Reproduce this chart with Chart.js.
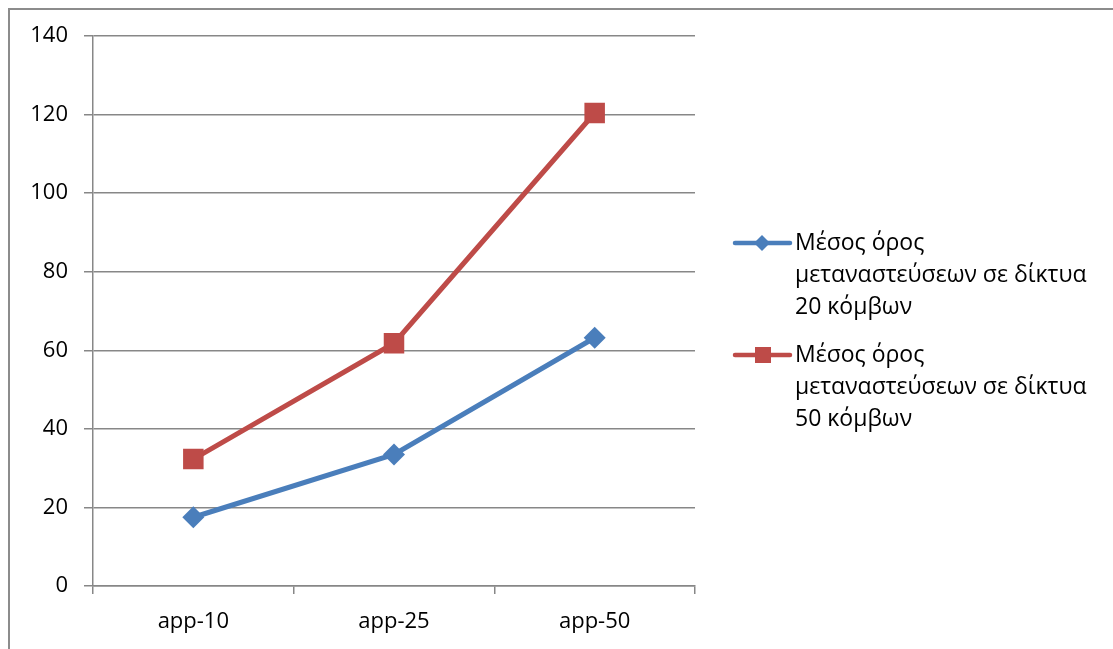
<!DOCTYPE html>
<html>
<head>
<meta charset="utf-8">
<script src="https://cdn.jsdelivr.net/npm/chart.js@4"></script>
<style>
  html, body { margin: 0; padding: 0; background: #fff; }
  #wrap { position: relative; width: 1113px; height: 649px; }
</style>
</head>
<body>
<div id="wrap"><canvas id="chart" width="1113" height="649"></canvas></div>
<script>
const categories = ['app-10', 'app-25', 'app-50'];
const nodes20 = [17.5, 33.5, 63.2];
const nodes50 = [32.3, 61.8, 120.4];
const seriesLabels = [
    ['Μέσος όρος', 'μεταναστεύσεων σε δίκτυα', '20 κόμβων'],
    ['Μέσος όρος', 'μεταναστεύσεων σε δίκτυα', '50 κόμβων']
];
const yTicks = [0, 20, 40, 60, 80, 100, 120, 140];

const FONT = '"Open Sans", "Noto Sans", sans-serif';
const GRID = '#878787';

// outer frame around the chart
const framePlugin = {
    id: 'frame',
    beforeDraw(chart) {
        const ctx = chart.ctx;
        ctx.save();
        ctx.strokeStyle = '#8c8c8c';
        ctx.lineWidth = 2;
        ctx.strokeRect(9, 9, 1300, 1000);
        ctx.restore();
    }
};

// legend on the right with wrapped labels
const sideLegend = {
    id: 'sideLegend',
    afterDraw(chart) {
        const ctx = chart.ctx;
        const x0 = chart.chartArea.right + 40;
        ctx.save();
        chart.data.datasets.forEach((ds, i) => {
            const y = 243 + i * 112;
            ctx.strokeStyle = ds.borderColor;
            ctx.lineWidth = 4.5;
            ctx.lineCap = 'round';
            ctx.beginPath();
            ctx.moveTo(x0, y);
            ctx.lineTo(x0 + 55, y);
            ctx.stroke();
            ctx.fillStyle = ds.borderColor;
            ctx.beginPath();
            if (ds.pointStyle === 'rectRot') {
                ctx.moveTo(x0 + 27, y - 8);
                ctx.lineTo(x0 + 35, y);
                ctx.lineTo(x0 + 27, y + 8);
                ctx.lineTo(x0 + 19, y);
            } else {
                ctx.rect(x0 + 20, y - 8, 16, 16);
            }
            ctx.fill();
            ctx.fillStyle = '#000';
            ctx.font = '23px ' + FONT;
            ctx.textBaseline = 'middle';
            ds.lines.forEach((line, k) => {
                ctx.fillText(line, x0 + 60, y + k * 32);
            });
        });
        ctx.restore();
    }
};

new Chart(document.getElementById('chart'), {
    type: 'line',
    data: {
        labels: categories,
        datasets: [
            {
                label: seriesLabels[0].join(' '),
                lines: seriesLabels[0],
                data: nodes20,
                borderColor: '#4a7ebb',
                backgroundColor: '#4a7ebb',
                borderWidth: 5,
                pointStyle: 'rectRot',
                pointRadius: 11,
                pointBorderWidth: 0,
                tension: 0
            },
            {
                label: seriesLabels[1].join(' '),
                lines: seriesLabels[1],
                data: nodes50,
                borderColor: '#be4b48',
                backgroundColor: '#be4b48',
                borderWidth: 5,
                pointStyle: 'rect',
                pointRadius: 14.5,
                pointBorderWidth: 0,
                tension: 0
            }
        ]
    },
    options: {
        responsive: false,
        animation: false,
        layout: { padding: { left: 0, top: 36, right: 418, bottom: 0 } },
        plugins: {
            legend: { display: false },
            tooltip: { enabled: false }
        },
        scales: {
            x: {
                offset: true,
                afterFit(scale) { scale.height = 63; },
                grid: {
                    offset: true,
                    drawOnChartArea: false,
                    color: GRID,
                    lineWidth: 1.5,
                    tickLength: 8
                },
                border: { color: GRID, width: 1.5 },
                ticks: {
                    color: '#000',
                    padding: 15,
                    maxRotation: 0,
                    font: { family: FONT, size: 22 }
                }
            },
            y: {
                min: 0,
                max: 140,
                afterFit(scale) { scale.width = 93; },
                afterBuildTicks(scale) {
                    scale.ticks = yTicks.map(v => ({ value: v }));
                },
                grid: {
                    color: GRID,
                    lineWidth: 1.5,
                    tickLength: 9
                },
                border: { color: GRID, width: 1.5 },
                ticks: {
                    color: '#000',
                    padding: 16,
                    font: { family: FONT, size: 22 }
                }
            }
        }
    },
    plugins: [framePlugin, sideLegend]
});
</script>
</body>
</html>
